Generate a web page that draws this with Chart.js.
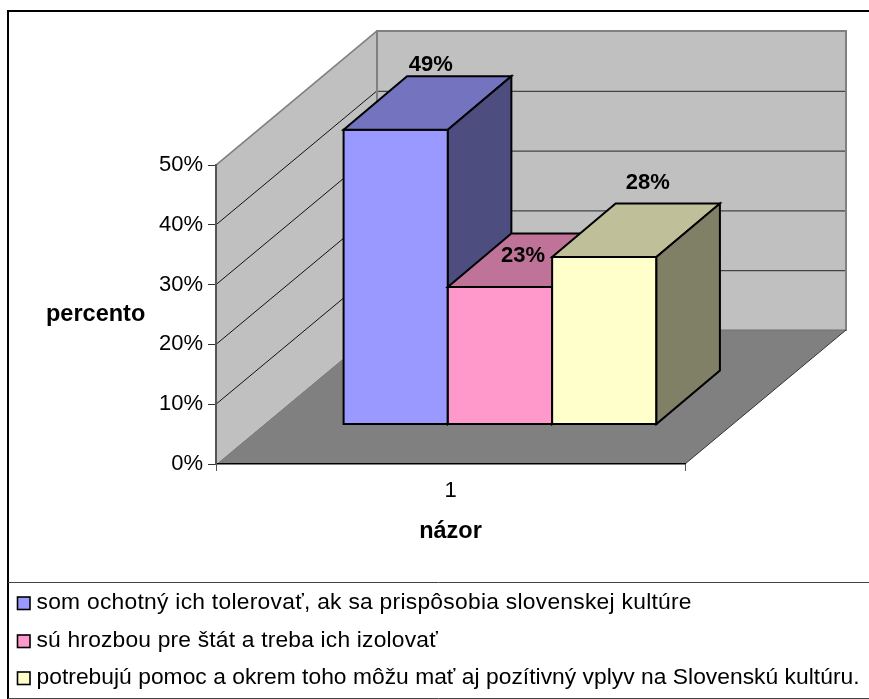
<!DOCTYPE html>
<html><head><meta charset="utf-8">
<style>html,body{margin:0;padding:0;background:#fff}canvas{display:block}</style>
<script src="https://cdn.jsdelivr.net/npm/chart.js@4/dist/chart.umd.js"></script>
</head><body><canvas id="c" width="869" height="699"></canvas>
<script>
const categories = ['1'];
const seriesNames = [
  'som ochotný ich tolerovať, ak sa prispôsobia slovenskej kultúre',
  'sú hrozbou pre štát a treba ich izolovať',
  'potrebujú pomoc a okrem toho môžu mať aj pozítivný vplyv na Slovenskú kultúru.'
];
const seriesValues = [[49.3],[23],[28]];
const dataLabels = ['49%','23%','28%'];
const frontColors = ['#9999FF','#FF99CC','#FFFFCC'];
const topColors = ['#7373BF','#BF7399','#BFBF99'];
const sideColors = ['#4D4D80','#804D66','#808066'];
const yAxisTitle = 'percento';
const xAxisTitle = 'názor';

const FONT = '"Liberation Sans", Arial, sans-serif';
const wallDepth = {dx:161, dy:-134};
const barShift = {dx:49.5, dy:-39.5};
const barDepth = {dx:63.5, dy:-53.5};
const labelOffset = [{dx:35,dy:-58.5},{dx:23,dy:-25},{dx:43.5,dy:-68}];
const legendSpacing = ['0.27px','0.19px','0.03px'];

function poly(ctx, pts, fill, stroke, lw){
  ctx.beginPath();
  pts.forEach((p,i)=> i?ctx.lineTo(p[0],p[1]):ctx.moveTo(p[0],p[1]));
  ctx.closePath();
  if(fill){ctx.fillStyle=fill;ctx.fill();}
  if(stroke){ctx.strokeStyle=stroke;ctx.lineWidth=lw;ctx.lineJoin='miter';ctx.stroke();}
}
function seg(ctx,x1,y1,x2,y2,color,lw){
  ctx.beginPath();ctx.moveTo(x1,y1);ctx.lineTo(x2,y2);ctx.strokeStyle=color;ctx.lineWidth=lw;ctx.stroke();
}
const scene = {
  id:'scene',
  beforeDraw(chart){
    const ctx=chart.ctx, xs=chart.scales.x, ys=chart.scales.y;
    const L=xs.left,R=xs.right,T=ys.getPixelForValue(50),B=ys.getPixelForValue(0);
    const dx=wallDepth.dx,dy=wallDepth.dy;
    ctx.save();
    ctx.fillStyle='#fff';ctx.fillRect(0,0,chart.width,chart.height);
    poly(ctx,[[L,B],[R,B],[R+dx,B+dy],[L+dx,B+dy]],'#808080');
    poly(ctx,[[L,B],[L,T],[L+dx,T+dy],[L+dx,B+dy]],'#C0C0C0');
    poly(ctx,[[L+dx,T+dy],[R+dx,T+dy],[R+dx,B+dy],[L+dx,B+dy]],'#C0C0C0');
    ys.ticks.forEach(t=>{
      if(t.value<=0||t.value>=50) return;
      const y=ys.getPixelForValue(t.value);
      seg(ctx,L,y,L+dx,y+dy,'#111',1);
      seg(ctx,L+dx,y+dy+.5,R+dx-1,y+dy+.5,'#444',1.2);
    });
    ctx.lineCap='square';
    seg(ctx,L,T,L+dx,T+dy,'#808080',1.6);
    seg(ctx,L+dx,T+dy,R+dx,T+dy,'#808080',2);
    seg(ctx,L+dx,T+dy,L+dx,B+dy,'#808080',2);
    seg(ctx,R+dx,T+dy,R+dx,B+dy,'#808080',2);
    seg(ctx,L+dx,B+dy,R+dx,B+dy,'#707070',1);
    ctx.lineCap='butt';
    seg(ctx,R,B,R+dx,B+dy,'#333',1);
    ctx.restore();
  },
  beforeDatasetsDraw(chart){
    const ctx=chart.ctx;
    // Paint the boxes left to right so that later boxes sit in front of earlier ones.
    seriesNames.forEach((_,i)=>{
      const meta=chart.getDatasetMeta(i),el=meta.data[0];
      ctx.save();
      ctx.translate(barShift.dx,barShift.dy);
      meta.controller.draw();
      const l=el.x-el.width/2,r=el.x+el.width/2,t=el.y,b=el.base;
      const dx=barDepth.dx,dy=barDepth.dy;
      poly(ctx,[[l,t],[r,t],[r,b],[l,b]],null,'#000',2);
      poly(ctx,[[l,t],[r,t],[r+dx,t+dy],[l+dx,t+dy]],topColors[i],'#000',2);
      poly(ctx,[[r,t],[r+dx,t+dy],[r+dx,b+dy],[r,b]],sideColors[i],'#000',2);
      ctx.restore();
    });
    ctx.save();
    ctx.fillStyle='#000';ctx.textAlign='center';ctx.textBaseline='alphabetic';
    ctx.font='bold 22px '+FONT;
    seriesNames.forEach((_,i)=>{
      const el=chart.getDatasetMeta(i).data[0];
      ctx.fillText(dataLabels[i],el.x+barShift.dx+labelOffset[i].dx,el.y+barShift.dy+labelOffset[i].dy);
    });
    ctx.restore();
    return false;
  },
  afterDraw(chart){
    const ctx=chart.ctx;
    ctx.save();
    ctx.fillStyle='#000';ctx.textAlign='left';ctx.textBaseline='alphabetic';
    ctx.font='bold 23.5px '+FONT;
    ctx.fillText(yAxisTitle,46,321);
    const ly=[609,647,684];
    ctx.font='22.8px '+FONT;
    seriesNames.forEach((n,i)=>{
      ctx.fillStyle=frontColors[i];ctx.strokeStyle='#000';ctx.lineWidth=1.6;
      ctx.fillRect(17.5,ly[i]-12,12.5,12.5);ctx.strokeRect(17.5,ly[i]-12,12.5,12.5);
      ctx.fillStyle='#000';
      ctx.letterSpacing=legendSpacing[i];
      ctx.fillText(n,36.5,ly[i]);
    });
    ctx.letterSpacing='0px';
    seg(ctx,8,11,869,11,'#000',2);
    seg(ctx,8,10,8,699,'#000',2);
    seg(ctx,8,582.5,869,582.5,'#444',1);
    seg(ctx,8,698.5,869,698.5,'#444',1);
    ctx.restore();
  }
};
new Chart(document.getElementById('c'),{
  type:'bar',
  data:{
    labels:categories,
    datasets:seriesNames.map((n,i)=>({
      label:n,data:seriesValues[i],backgroundColor:frontColors[i],
      borderWidth:0,clip:false,
      categoryPercentage:0.667,barPercentage:1
    }))
  },
  plugins:[scene],
  options:{
    responsive:false,animation:false,
    layout:{padding:{left:0,top:165,right:184,bottom:0}},
    plugins:{legend:{display:false},tooltip:{enabled:false},title:{display:false}},
    scales:{
      x:{
        afterFit(s){s.height=235;},
        border:{color:'#000',width:1.5},
        grid:{display:true,drawOnChartArea:false,tickLength:7,color:'#555',offset:true},
        ticks:{color:'#000',font:{family:FONT,size:22},padding:7},
        title:{display:true,text:xAxisTitle,color:'#000',font:{family:FONT,size:23.5,weight:'bold'},padding:{top:0,bottom:153}}
      },
      y:{
        min:0,max:50,
        afterFit(s){s.width=216;},
        border:{color:'#555',width:2},
        grid:{display:true,drawOnChartArea:false,tickLength:8,color:'#333'},
        ticks:{stepSize:10,color:'#000',font:{family:FONT,size:22},padding:5,callback:v=>v+'%'}
      }
    }
  }
});
</script></body></html>
